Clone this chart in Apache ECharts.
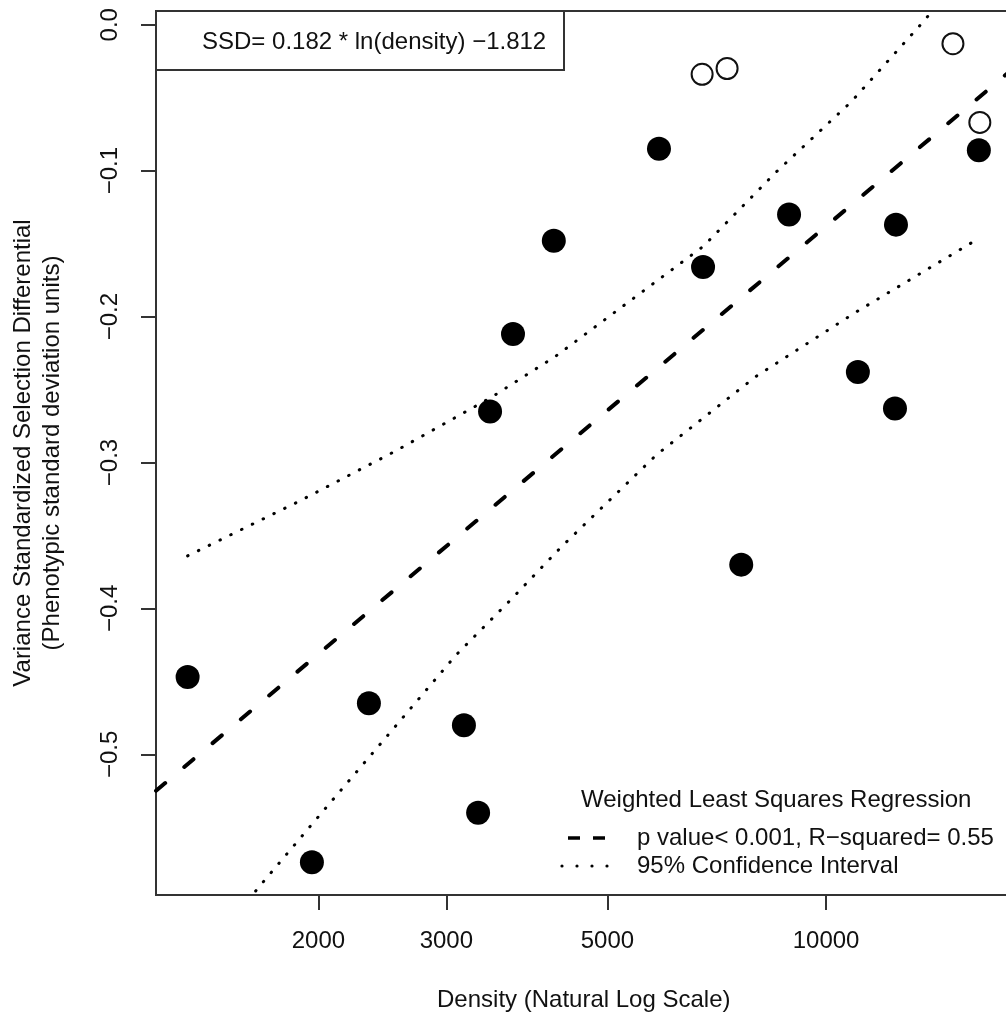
<!DOCTYPE html>
<html>
<head>
<meta charset="utf-8">
<script src="https://cdn.jsdelivr.net/npm/echarts@6/dist/echarts.min.js"></script>
<style>
html,body{margin:0;padding:0;background:#fff;}
#chart{width:1006px;height:1013px;}
</style>
</head>
<body>
<div id="chart"></div>
<script>
// ---- data ----
const densityFilled = [1321, 1959, 2347, 3172, 3318, 3446, 3706, 4218, 5887, 6770, 7641, 8892, 11060, 12480, 12440, 16230];
const ssdFilled     = [-0.447, -0.574, -0.465, -0.480, -0.540, -0.265, -0.212, -0.148, -0.085, -0.166, -0.370, -0.130, -0.238, -0.137, -0.263, -0.086];
const densityOpen = [6750, 7306, 14950, 16280];
const ssdOpen     = [-0.034, -0.030, -0.013, -0.067];
const regDensity = [1195, 18000];
const regSSD     = [-0.525, -0.031];
const ciUpperDensity = [1321, 1874, 2557, 3469, 4248, 6770, 8534, 10820, 13720, 14100];
const ciUpperSSD     = [-0.364, -0.327, -0.292, -0.255, -0.227, -0.152, -0.101, -0.053, 0.004, 0.012];
const ciLowerDensity = [1600, 1662, 2029, 2501, 3093, 3681, 4316, 5833, 8007, 10990, 16280];
const ciLowerSSD     = [-0.600, -0.590, -0.539, -0.486, -0.432, -0.394, -0.358, -0.295, -0.241, -0.197, -0.146];
const xTicks = [2000, 3000, 5000, 10000];
const yTicks = [-0.5, -0.4, -0.3, -0.2, -0.1, 0.0];
const xRange = [1195, 18000];
const yRange = [-0.5964, 0.0094];
const equationText = 'SSD= 0.182 * ln(density) \u22121.812';
const legendTitle = 'Weighted Least Squares Regression';
const legendRows = ['p value< 0.001, R\u2212squared= 0.55', '95% Confidence Interval'];
const xTitle = 'Density (Natural Log Scale)';
const yTitle = 'Variance Standardized Selection Differential\n(Phenotypic standard deviation units)';

// ---- build ----
const FONT = '"Liberation Sans", Arial, Helvetica, sans-serif';
const TXT = '#111';
const ln = Math.log;
const pairs = (xs, ys) => xs.map((d, i) => [ln(d), ys[i]]);

const chart = echarts.init(document.getElementById('chart'), null, {renderer: 'canvas'});
chart.setOption({
  animation: false,
  backgroundColor: '#fff',
  grid: {left: 156, top: 11, width: 855.5, height: 884, show: true, borderColor: '#333', borderWidth: 2,
    containLabel: false, outerBoundsMode: 'none'},
  xAxis: {
    type: 'value', min: ln(xRange[0]), max: ln(xRange[1]),
    name: xTitle, nameLocation: 'middle', nameGap: 91,
    nameTextStyle: {fontFamily: FONT, fontSize: 24, color: TXT, lineHeight: 29},
    axisLine: {show: false, onZero: false},
    splitLine: {show: false},
    axisTick: {show: true, length: 15, lineStyle: {color: '#333', width: 2}, customValues: xTicks.map(ln)},
    axisLabel: {fontFamily: FONT, fontSize: 24, color: TXT, lineHeight: 29, margin: 32,
      customValues: xTicks.map(ln), formatter: v => String(Math.round(Math.exp(v)))}
  },
  yAxis: {
    type: 'value', min: yRange[0], max: yRange[1],
    name: yTitle, nameLocation: 'middle', nameGap: 89, nameRotate: 90,
    nameTextStyle: {fontFamily: FONT, fontSize: 24, color: TXT, lineHeight: 29, align: 'center'},
    axisLine: {show: false, onZero: false},
    splitLine: {show: false},
    axisTick: {show: true, length: 15, lineStyle: {color: '#333', width: 2}, customValues: yTicks},
    axisLabel: {fontFamily: FONT, fontSize: 24, color: TXT, lineHeight: 29, margin: 31, rotate: 90,
      customValues: yTicks, formatter: v => v.toFixed(1).replace('-', '\u2212')}
  },
  series: [
    {type: 'line', data: pairs(regDensity, regSSD), showSymbol: false, symbol: 'none', silent: true, clip: true,
      lineStyle: {color: '#000', width: 4, type: [12, 25], cap: 'round'}},
    {type: 'line', data: pairs(ciUpperDensity, ciUpperSSD), showSymbol: false, symbol: 'none', silent: true, clip: true,
      lineStyle: {color: '#000', width: 3, type: [0.5, 11.5], cap: 'round'}},
    {type: 'line', data: pairs(ciLowerDensity, ciLowerSSD), showSymbol: false, symbol: 'none', silent: true, clip: true,
      lineStyle: {color: '#000', width: 3, type: [0.5, 11.5], cap: 'round'}},
    {type: 'scatter', data: pairs(densityFilled, ssdFilled), symbol: 'circle', symbolSize: 24, silent: true,
      itemStyle: {color: '#000', opacity: 1}},
    {type: 'scatter', data: pairs(densityOpen, ssdOpen), symbol: 'circle', symbolSize: 21, silent: true,
      itemStyle: {color: 'rgba(255,255,255,0)', borderColor: '#111', borderWidth: 2, opacity: 1}}
  ],
  graphic: [
    {type: 'rect', shape: {x: 156, y: 11, width: 408, height: 59}, style: {fill: '#fff', stroke: '#333', lineWidth: 2}, z: 10},
    {type: 'text', x: 202, y: 42, style: {text: equationText, font: '24px ' + FONT, fill: TXT, verticalAlign: 'middle', align: 'left'}, z: 11},
    {type: 'text', x: 581, y: 800, style: {text: legendTitle, font: '24px ' + FONT, fill: TXT, verticalAlign: 'middle', align: 'left'}, z: 11},
    {type: 'line', shape: {x1: 568, y1: 838, x2: 580, y2: 838}, style: {stroke: '#000', lineWidth: 3.5}, z: 11},
    {type: 'line', shape: {x1: 593, y1: 838, x2: 605, y2: 838}, style: {stroke: '#000', lineWidth: 3.5}, z: 11},
    {type: 'text', x: 637, y: 838, style: {text: legendRows[0], font: '24px ' + FONT, fill: TXT, verticalAlign: 'middle', align: 'left'}, z: 11},
    {type: 'circle', shape: {cx: 562, cy: 866, r: 1.6}, style: {fill: '#000'}, z: 11},
    {type: 'circle', shape: {cx: 577, cy: 866, r: 1.6}, style: {fill: '#000'}, z: 11},
    {type: 'circle', shape: {cx: 592, cy: 866, r: 1.6}, style: {fill: '#000'}, z: 11},
    {type: 'circle', shape: {cx: 607, cy: 866, r: 1.6}, style: {fill: '#000'}, z: 11},
    {type: 'text', x: 637, y: 866, style: {text: legendRows[1], font: '24px ' + FONT, fill: TXT, verticalAlign: 'middle', align: 'left'}, z: 11}
  ]
});
</script>
</body>
</html>
